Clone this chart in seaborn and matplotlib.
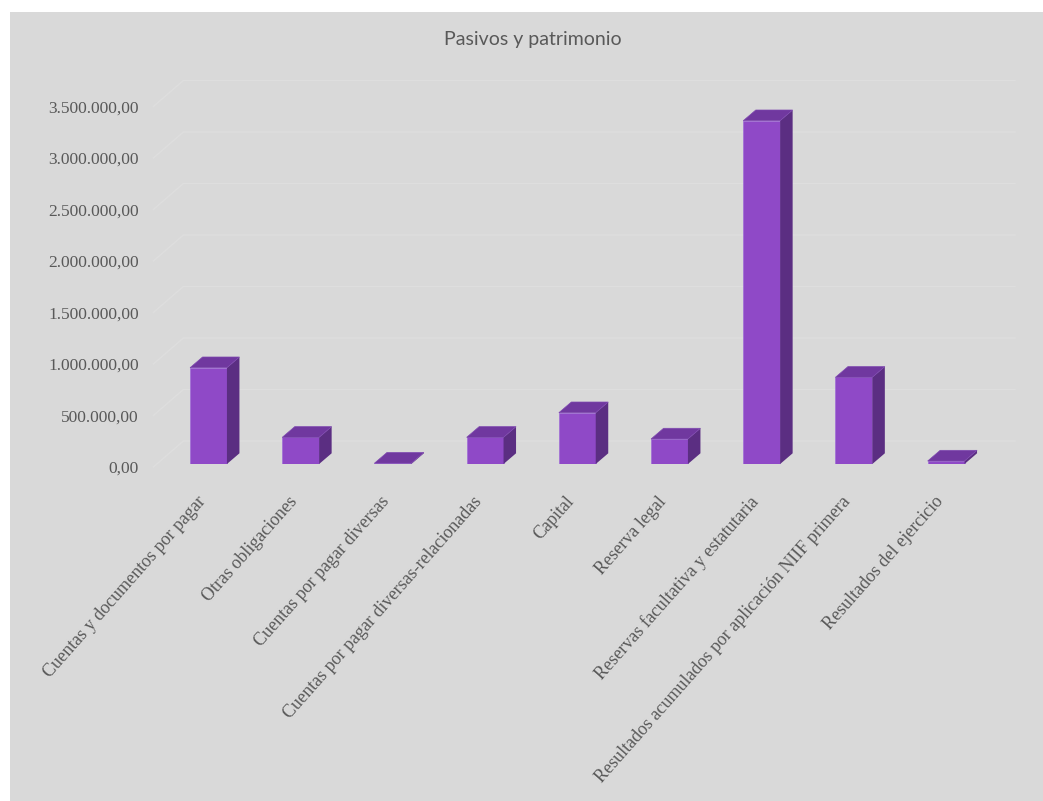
import matplotlib
matplotlib.use("Agg")
import matplotlib.pyplot as plt
import matplotlib.transforms as mtransforms
from matplotlib.patches import Polygon, Rectangle
import seaborn as sns

# data
categorias = [
    "Cuentas y documentos por pagar",
    "Otras obligaciones",
    "Cuentas por pagar diversas",
    "Cuentas por pagar diversas-relacionadas",
    "Capital",
    "Reserva legal",
    "Reservas facultativa y estatutaria",
    "Resultados acumulados por aplicación NIIF primera",
    "Resultados del ejercicio",
]
valores = [935000, 259000, 8000, 259000, 498000, 243000, 3333000, 842000, 29000]
ticks_y = [0, 500000, 1000000, 1500000, 2000000, 2500000, 3000000, 3500000]
ticks_y_txt = ["0,00", "500.000,00", "1.000.000,00", "1.500.000,00", "2.000.000,00",
               "2.500.000,00", "3.000.000,00", "3.500.000,00"]

front_c = "#8f49c7"
side_c = "#5b2e82"
top_c = "#70389f"
bg = "#d9d9d9"
txt_c = "#595959"

W, H = 1043, 801
fig = plt.figure(figsize=(W / 100, H / 100), dpi=100, facecolor="white")
fig.patches.append(Rectangle((10 / W, 0), 1, (H - 12) / H, transform=fig.transFigure,
                             facecolor=bg, edgecolor="none", zorder=-10))

# geometry in pixels
px_cat = 92.2            # px per category
px_y = 51.5 / 500000     # px per unit value
x_lo, x_hi = -0.56, 8.6
y0_px = 464
x_c0 = 208.5
left_px = x_c0 + x_lo * px_cat
right_px = x_c0 + x_hi * px_cat
top_px = y0_px - 3500000 * px_y
ax = fig.add_axes([left_px / W, (H - y0_px) / H, (right_px - left_px) / W, (y0_px - top_px) / H])
ax.set_facecolor("none")
ax.set_zorder(1)

sns.barplot(x=categorias, y=valores, width=0.4, color=front_c, saturation=1,
            edgecolor="#a373d6", linewidth=0.6, ax=ax, zorder=2)

# 3d faces of the bars
ddx = 12.5 / px_cat
ddy = 10.7 / px_y
for i, v in enumerate(valores):
    xl, xr = i - 0.2, i + 0.2
    ax.add_patch(Polygon([(xr, 0), (xr + ddx, ddy), (xr + ddx, v + ddy), (xr, v)],
                         closed=True, facecolor=side_c, edgecolor="none", zorder=2))
    ax.add_patch(Polygon([(xl, v), (xr, v), (xr + ddx, v + ddy), (xl + ddx, v + ddy)],
                         closed=True, facecolor=top_c, edgecolor="#7e48b0", linewidth=0.5, zorder=2))

# perspective gridlines
gx0 = x_lo - 3.5 / px_cat
gdx = 30 / px_cat
gdy = 26 / px_y
x_end = (1015 - x_c0) / px_cat
for t in ticks_y:
    yb = t - 3 / px_y
    ax.plot([gx0, gx0 + gdx, x_end], [yb, yb + gdy, yb + gdy], color="#dedede",
            lw=1, zorder=0.5, clip_on=False)

ax.set_xlim(x_lo, x_hi)
ax.set_ylim(0, 3500000)
ax.set_yticks(ticks_y)
ax.set_yticklabels(ticks_y_txt, family="Liberation Serif", fontsize=12.5, color=txt_c)
ax.set_xticks(range(len(categorias)))
ax.set_xticklabels(categorias, family="Liberation Serif", fontsize=13, color=txt_c,
                   rotation=48.5, ha="right", va="center", rotation_mode="anchor")
ax.tick_params(axis="y", length=0, pad=13)
ax.tick_params(axis="x", length=0, pad=25)
ax.set_xlabel("")
ax.set_ylabel("")
sns.despine(ax=ax, left=True, bottom=True)

off_x = mtransforms.ScaledTranslation(-6 / 100, 0, fig.dpi_scale_trans)
for lab in ax.get_xticklabels():
    lab.set_transform(lab.get_transform() + off_x)
off_y = mtransforms.ScaledTranslation(0, -3 / 100, fig.dpi_scale_trans)
for lab in ax.get_yticklabels():
    lab.set_transform(lab.get_transform() + off_y)

fig.text(533 / W, 1 - 40 / H, "Pasivos y patrimonio", ha="center", va="center",
         fontsize=14, color=txt_c, family=["Lato", "DejaVu Sans"])

fig.savefig("out.png", dpi=100)
